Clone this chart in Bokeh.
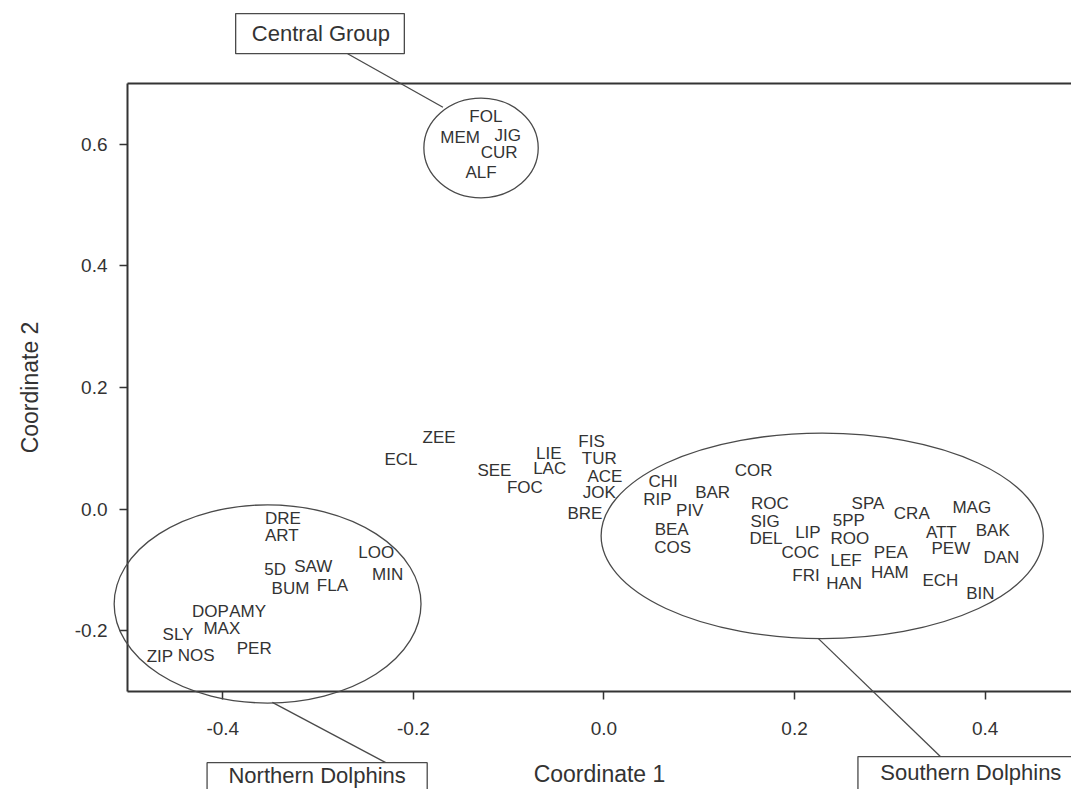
from bokeh.plotting import figure
from bokeh.models import (LinearAxis, FixedTicker, Range1d, ColumnDataSource,
                          PrintfTickFormatter)
from bokeh.core.properties import value
from bokeh.embed import file_html
from bokeh.resources import INLINE

# MDS coordinates of individual dolphins
names = ["FOL", "MEM", "JIG", "CUR", "ALF",
         "DRE", "ART", "5D", "SAW", "BUM", "FLA", "LOO", "MIN",
         "DOP", "AMY", "SLY", "MAX", "PER", "ZIP", "NOS",
         "ZEE", "ECL", "SEE", "FOC", "LIE", "LAC", "FIS", "TUR", "ACE", "JOK", "BRE",
         "CHI", "RIP", "BAR", "PIV", "BEA", "COS", "COR", "ROC", "SIG", "DEL",
         "LIP", "COC", "FRI", "SPA", "5PP", "ROO", "LEF", "HAN", "PEA", "HAM",
         "CRA", "ATT", "PEW", "ECH", "MAG", "BAK", "DAN", "BIN"]
coord1 = [-0.124, -0.151, -0.101, -0.110, -0.129,
          -0.337, -0.338, -0.345, -0.305, -0.329, -0.285, -0.239, -0.227,
          -0.413, -0.374, -0.447, -0.401, -0.367, -0.466, -0.428,
          -0.173, -0.213, -0.115, -0.083, -0.058, -0.057, -0.013, -0.005, 0.001, -0.005, -0.020,
          0.062, 0.056, 0.114, 0.090, 0.071, 0.072, 0.157, 0.174, 0.169, 0.170,
          0.214, 0.206, 0.212, 0.277, 0.257, 0.258, 0.254, 0.252, 0.301, 0.300,
          0.323, 0.354, 0.364, 0.353, 0.386, 0.408, 0.417, 0.395]
coord2 = [0.645, 0.612, 0.615, 0.586, 0.554,
          -0.015, -0.043, -0.100, -0.095, -0.130, -0.125, -0.072, -0.107,
          -0.169, -0.168, -0.207, -0.197, -0.229, -0.242, -0.240,
          0.118, 0.081, 0.064, 0.035, 0.092, 0.066, 0.112, 0.084, 0.053, 0.028, -0.007,
          0.046, 0.016, 0.028, -0.003, -0.033, -0.063, 0.064, 0.010, -0.021, -0.048,
          -0.038, -0.072, -0.109, 0.010, -0.018, -0.048, -0.084, -0.122, -0.071, -0.105,
          -0.007, -0.039, -0.064, -0.117, 0.003, -0.035, -0.079, -0.138]

x_ticks = [-0.4, -0.2, 0.0, 0.2, 0.4]
y_ticks = [-0.2, 0.0, 0.2, 0.4, 0.6]

# Community outlines, caption boxes and leader lines, in data units
groups = ["Central Group", "Northern Dolphins", "Southern Dolphins"]
ring_cx = [-0.129, -0.353, 0.229]
ring_cy = [0.594, -0.156, -0.044]
ring_w = [0.120, 0.322, 0.464]
ring_h = [0.164, 0.326, 0.338]
cap_x = [-0.297, -0.301, 0.385]
cap_y = [0.782, -0.438, -0.433]
box_x = [-0.298, -0.301, 0.385]
box_y = [0.782, -0.450, -0.440]
box_w = [0.177, 0.231, 0.237]
box_h = [0.066, 0.066, 0.066]
lead_x0 = [-0.269, -0.348, 0.225]
lead_y0 = [0.749, -0.318, -0.213]
lead_x1 = [-0.169, -0.229, 0.353]
lead_y1 = [0.661, -0.417, -0.407]

FONT = "Liberation Sans"
INK = "#333333"
LINE = "#4a4a4a"

W, H = 1071, 789
LEFT, TOP, BOTTOM = 127, 83, 98
X0, X1 = -0.5, 0.4906
Y0, Y1 = -0.3, 0.7

p = figure(width=W, height=H,
           x_range=Range1d(X0, X1), y_range=Range1d(Y0, Y1),
           output_backend="svg", toolbar_location=None,
           min_border_left=LEFT, min_border_right=0,
           min_border_top=TOP, min_border_bottom=BOTTOM,
           background_fill_color="white", border_fill_color="white")
p.outline_line_color = None
p.xgrid.visible = False
p.ygrid.visible = False

for ax, ticks in ((p.xaxis[0], x_ticks), (p.yaxis[0], y_ticks)):
    ax.ticker = FixedTicker(ticks=ticks)
    ax.formatter = PrintfTickFormatter(format="%.1f")
    ax.major_tick_out = 8
    ax.major_tick_in = 0
    ax.minor_tick_line_color = None
    ax.axis_line_width = 2
    ax.axis_line_color = INK
    ax.major_tick_line_color = INK
    ax.major_tick_line_width = 1.5
    ax.major_label_text_font = FONT
    ax.major_label_text_font_size = "19px"
    ax.major_label_text_color = INK
    ax.axis_label_text_font = FONT
    ax.axis_label_text_font_size = "23px"
    ax.axis_label_text_font_style = "normal"
    ax.axis_label_text_color = INK

p.xaxis.axis_label = "Coordinate 1"
p.yaxis.axis_label = "Coordinate 2"
p.xaxis.major_label_standoff = 22
p.xaxis.axis_label_standoff = 23
p.yaxis.major_label_standoff = 12
p.yaxis.axis_label_standoff = 29

# top border of the frame
top = LinearAxis(ticker=FixedTicker(ticks=[]), axis_line_width=2, axis_line_color=INK,
                 major_tick_line_color=None, minor_tick_line_color=None,
                 major_label_text_font_size="0px")
p.add_layout(top, "above")

src = ColumnDataSource(dict(x=coord1, y=coord2, name=names))
p.text(x="x", y="y", text="name", source=src,
       text_align="center", text_baseline="middle",
       text_font=value(FONT), text_font_size="17px", text_color=INK)

# Transparent layer spanning the whole canvas, on the same data scale, so that
# the group outlines and captions can run past the plot frame.
fw, fh = W - LEFT, H - TOP - BOTTOM
sx = (X1 - X0) / fw
sy = (Y1 - Y0) / fh
ov = figure(width=W, height=H,
            x_range=Range1d(X0 - LEFT * sx, X1),
            y_range=Range1d(Y0 - BOTTOM * sy, Y1 + TOP * sy),
            output_backend="svg", toolbar_location=None,
            x_axis_type=None, y_axis_type=None,
            min_border=0, background_fill_alpha=0, border_fill_alpha=0)
ov.outline_line_color = None
ov.grid.visible = False
ov.margin = (-H, 0, 0, 0)

ov.ellipse(x=ring_cx, y=ring_cy, width=ring_w, height=ring_h,
           fill_color=None, line_color=LINE, line_width=1.3)
ov.segment(x0=lead_x0, y0=lead_y0, x1=lead_x1, y1=lead_y1,
           line_color=LINE, line_width=1.3)
ov.rect(x=box_x, y=box_y, width=box_w, height=box_h,
        fill_color="white", line_color=LINE, line_width=1.3)
ov.text(x=cap_x, y=cap_y, text=groups, text_align="center", text_baseline="middle",
        text_font=value(FONT), text_font_size="22px", text_color=INK)

open("out.html", "w").write(file_html([p, ov], INLINE))
